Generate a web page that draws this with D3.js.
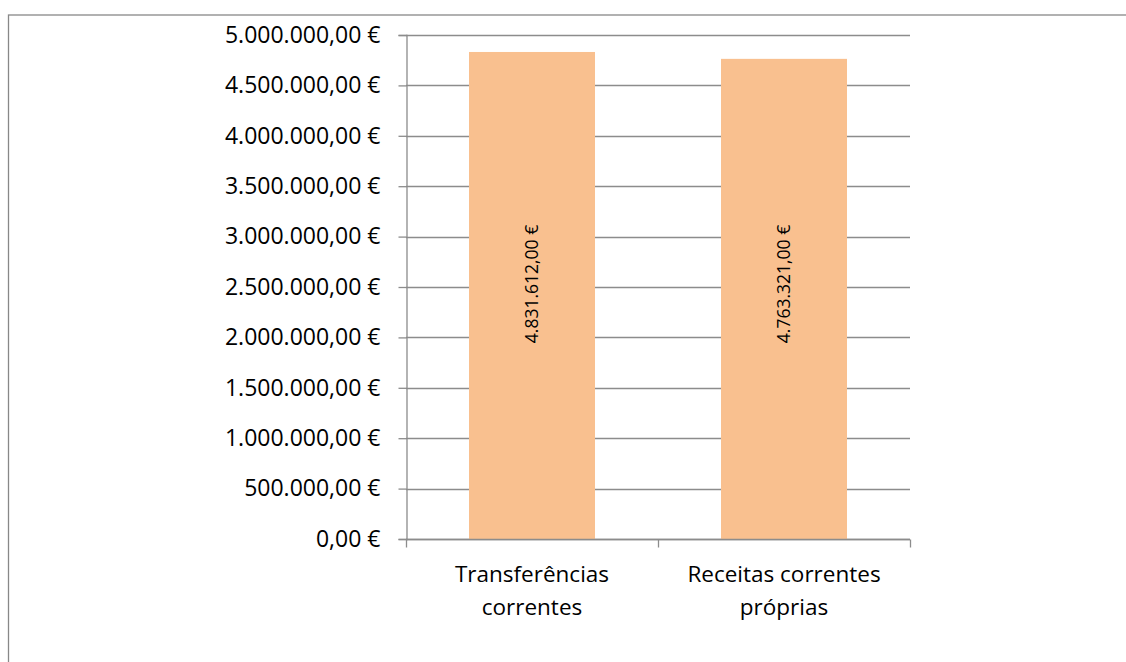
<!DOCTYPE html>
<html>
<head>
<meta charset="utf-8">
<script src="https://cdn.jsdelivr.net/npm/d3@7"></script>
<style>
  html, body { margin: 0; padding: 0; background: #fff; }
  svg { display: block; }
</style>
</head>
<body>
<svg id="chart" width="1126" height="662"></svg>
<script>
const categories = [["Transferências", "correntes"], ["Receitas correntes", "próprias"]];
const values = [4831612, 4763321];
const barLabels = ["4.831.612,00 €", "4.763.321,00 €"];
const yTicks = [0, 500000, 1000000, 1500000, 2000000, 2500000, 3000000, 3500000, 4000000, 4500000, 5000000];
const yTickLabels = ["0,00 €", "500.000,00 €", "1.000.000,00 €", "1.500.000,00 €", "2.000.000,00 €", "2.500.000,00 €", "3.000.000,00 €", "3.500.000,00 €", "4.000.000,00 €", "4.500.000,00 €", "5.000.000,00 €"];

(function () {
const FONT = "'Open Sans', sans-serif";
const svg = d3.select("#chart");

// outer chart border (extends beyond the viewport right and bottom)
svg.append("rect")
  .attr("x", 8.5).attr("y", 15).attr("width", 1200).attr("height", 700)
  .attr("fill", "none").attr("stroke", "#888").attr("stroke-width", 1.3);

const pL = 406, pR = 910, pT = 35, pB = 539;
const x = d3.scaleBand().domain(d3.range(values.length)).range([pL, pR]).paddingInner(0.5).paddingOuter(0.25);
const y = d3.scaleLinear().domain([0, 5000000]).range([pB, pT]);

// gridlines
svg.append("g").selectAll("line").data(yTicks).join("line")
  .attr("x1", pL).attr("x2", pR)
  .attr("y1", d => Math.round(y(d)) + 0.5).attr("y2", d => Math.round(y(d)) + 0.5)
  .attr("stroke", "#8c8c8c").attr("stroke-width", 1.3);

// bars
svg.append("g").selectAll("rect").data(values).join("rect")
  .attr("x", (d, i) => x(i)).attr("width", x.bandwidth())
  .attr("y", d => y(d)).attr("height", d => y(0) - y(d))
  .attr("fill", "#F9C08F");

// y axis
const yAxis = d3.axisLeft(y).tickValues(yTicks).tickSize(8).tickPadding(18)
  .tickFormat((d, i) => yTickLabels[i]);
const gy = svg.append("g").attr("transform", `translate(${pL + 0.5},0)`).call(yAxis);
gy.select(".domain").attr("stroke", "#8c8c8c").attr("stroke-width", 1.3);
gy.selectAll(".tick line").attr("stroke", "#8c8c8c").attr("stroke-width", 1.3);
gy.selectAll(".tick text").attr("font-family", FONT).attr("font-size", 23).attr("fill", "#000");

// x axis
const xEdge = d3.scaleLinear().domain([0, values.length]).range([pL, pR]);
const gx = svg.append("g").attr("transform", `translate(0,${pB + 0.5})`);
gx.append("line").attr("x1", pL).attr("x2", pR).attr("stroke", "#8c8c8c").attr("stroke-width", 1.3);
gx.selectAll("line.tk").data(d3.range(values.length + 1)).join("line").attr("class", "tk")
  .attr("x1", d => Math.round(xEdge(d)) + 0.5).attr("x2", d => Math.round(xEdge(d)) + 0.5)
  .attr("y1", 0).attr("y2", 8)
  .attr("stroke", "#8c8c8c").attr("stroke-width", 1.3);

const cat = svg.append("g").selectAll("text").data(categories).join("text")
  .attr("font-family", FONT).attr("font-size", 22.5).attr("fill", "#000")
  .attr("text-anchor", "middle");
cat.selectAll("tspan").data((d, i) => d.map(t => ({t, i}))).join("tspan")
  .attr("x", d => x(d.i) + x.bandwidth() / 2)
  .attr("y", (d, j) => 582 + j * 33)
  .text(d => d.t);

// bar labels (rotated)
svg.append("g").selectAll("text").data(values).join("text")
  .attr("transform", (d, i) => `translate(${x(i) + x.bandwidth() / 2 + 6},${y(2500000) - 3}) rotate(-90)`)
  .attr("text-anchor", "middle")
  .attr("font-family", FONT).attr("font-size", 17.5).attr("fill", "#000")
  .text((d, i) => barLabels[i]);
})();
</script>
</body>
</html>
